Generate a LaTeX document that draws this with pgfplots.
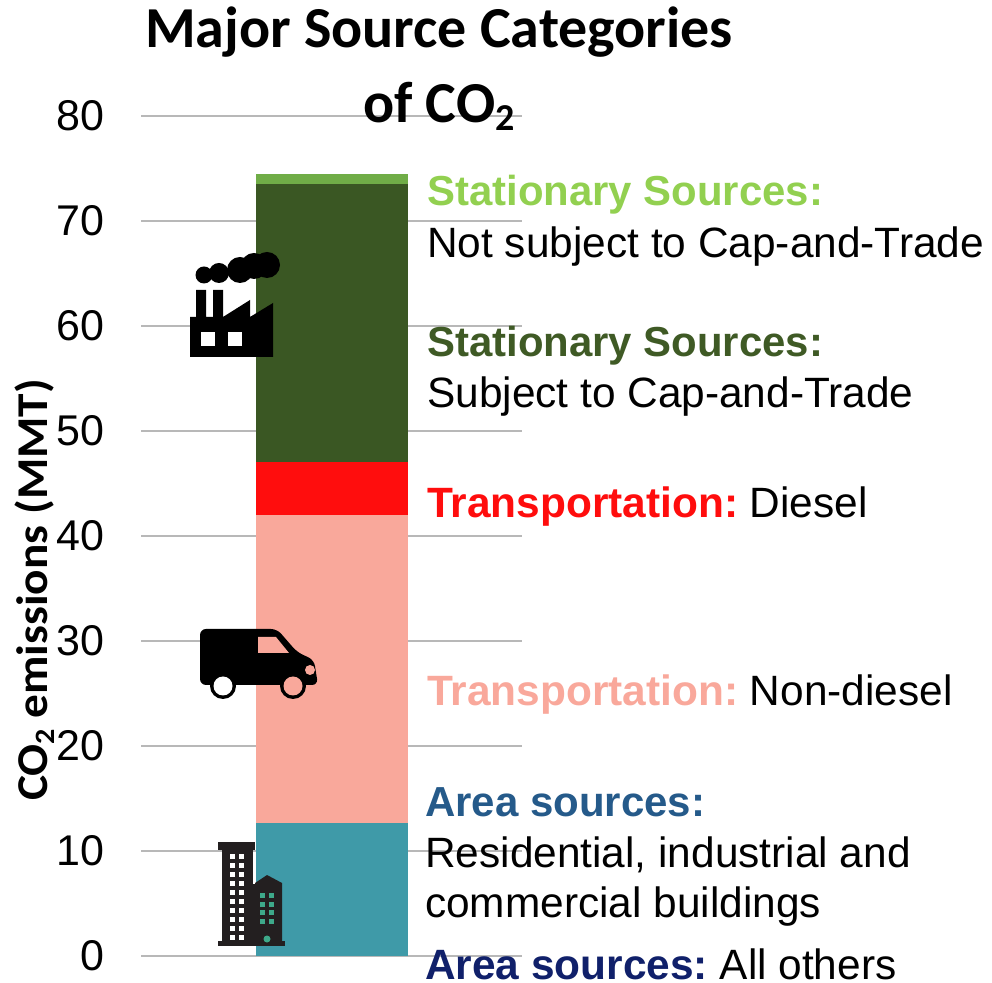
\documentclass[border=0pt]{standalone}
\usepackage{pgfplots}
\pgfplotsset{compat=1.18}
\usepackage{fontspec}
\setmainfont{Liberation Sans}
\newfontfamily\titlefont{Carlito}
\definecolor{cA}{HTML}{3F9AA8}
\definecolor{cB}{HTML}{F9A89B}
\definecolor{cC}{HTML}{FF0D0D}
\definecolor{cD}{HTML}{3A5723}
\definecolor{cE}{HTML}{70AD47}
\definecolor{tLight}{HTML}{92D050}
\definecolor{tDark}{HTML}{3F5A25}
\definecolor{tRed}{HTML}{FF0D0D}
\definecolor{tPink}{HTML}{F9A89B}
\definecolor{tBlue}{HTML}{255A8A}
\definecolor{tNavy}{HTML}{10206A}
\definecolor{grid}{HTML}{B8B8B8}
\definecolor{bld}{HTML}{231F20}
\definecolor{winG}{HTML}{3EA98A}
\pgfplotstableread{
x y
0 12.7
}\tA
\pgfplotstableread{
x y
0 29.3
}\tB
\pgfplotstableread{
x y
0 5.0
}\tC
\pgfplotstableread{
x y
0 26.5
}\tD
\pgfplotstableread{
x y
0 1.0
}\tE
\begin{document}
\begin{tikzpicture}[x=1pt,y=1pt]
\useasboundingbox (0,0) rectangle (992,982);
\begin{axis}[
  at={(141pt,26pt)}, anchor=south west,
  width=381pt, height=840pt, scale only axis,
  xmin=-191, xmax=190,
  ymin=0, ymax=80,
  ybar stacked, bar width=152pt,
  axis x line=none,
  axis y line=left,
  axis line style={draw=none},
  ytick={0,10,...,80},
  ymajorgrids,
  major grid style={draw=grid, line width=2.2pt},
  major tick length=0pt,
  tick style={draw=none},
  /pgf/number format/assume math mode=true,
  yticklabel style={font=\fontsize{43}{43}\selectfont, text=black, xshift=-33pt},
  clip=false,
]
\addplot[fill=cA,draw=none] table[x=x,y=y]{\tA};
\addplot[fill=cB,draw=none] table[x=x,y=y]{\tB};
\addplot[fill=cC,draw=none] table[x=x,y=y]{\tC};
\addplot[fill=cD,draw=none] table[x=x,y=y]{\tD};
\addplot[fill=cE,draw=none] table[x=x,y=y]{\tE};
\end{axis}
% icons, in picture pixels from the top-left corner
\begin{scope}[yscale=-1,yshift=-982pt]
% factory
\fill[black] (190,357) -- (190,317) -- (196,317) -- (196,290) -- (206,290) -- (206,317) -- (213,317) -- (213,290) -- (223,290) -- (223,317) -- (250,300) -- (250,317) -- (273,303) -- (273,357) -- cycle;
\fill[white] (201,332) rectangle (215,346);
\fill[white] (228,332) rectangle (242,346);
\fill[black] (204,275) circle (8.5);
\fill[black] (219,273) circle (10);
\fill[black] (240,270) circle (13);
\fill[black] (254,266) circle (13);
\fill[black] (267,265) circle (13);
% van
\fill[black,rounded corners=6pt] (200,685) -- (200,629) -- (277,629) -- (297,652) -- (314,660) -- (318,685) -- cycle;
\fill[tPink] (258,637) -- (276,637) -- (289,653) -- (258,653) -- cycle;
\fill[tPink] (310,670) circle (5);
\fill[black] (223,686) circle (13);
\fill[white] (223,686) circle (9.5);
\fill[black] (293,686) circle (13);
\fill[tPink] (293,686) circle (9.5);
% buildings
\fill[bld] (222,845) rectangle (253,945);
\fill[bld] (218,842) rectangle (255,850);
\fill[bld] (250,884) rectangle (256,945);
\fill[bld] (255,945) -- (255,883) -- (267,875) -- (282,883) -- (282,945) -- cycle;
\fill[bld] (218,941) rectangle (285,946);
\foreach \r in {853.5,862.5,871.5,880.5,889.5,898.5,907.5,916.5,925.5,934.5}{
  \fill[white] (229.5,\r) rectangle +(5,5);
  \fill[white] (239,\r) rectangle +(5,5);
}
\foreach \r in {893,902,910,919}{
  \fill[winG] (260,\r) rectangle +(5,5);
  \fill[winG] (269,\r) rectangle +(5,5);
}
\fill[winG] (267,939) circle (3.5);
\end{scope}
% text
\begin{scope}[every node/.style={anchor=west,inner sep=0pt,font=\fontsize{42.4}{42.4}\selectfont}]
\node[text=tLight,font=\fontsize{41.9}{41.9}\selectfont\bfseries] at (427,787) {Stationary Sources:};
\node at (427,735.5) {Not subject to Cap-and-Trade};
\node[text=tDark,font=\fontsize{41.9}{41.9}\selectfont\bfseries] at (427,636) {Stationary Sources:};
\node at (427,585.5) {Subject to Cap-and-Trade};
\node at (427,475) {\textcolor{tRed}{\bfseries Transportation:}\hspace{-4pt} Diesel};
\node at (427,287) {\textcolor{tPink}{\bfseries Transportation:}\hspace{-4pt} Non-diesel};
\node[text=tBlue,font=\fontsize{42}{42}\selectfont\bfseries] at (425,180) {Area sources:};
\node at (425,127) {Residential, industrial and};
\node at (425,75) {commercial buildings};
\node at (425,18) {\textcolor{tNavy}{\bfseries Area sources:}\hspace{-4pt} All others};
\end{scope}
\node[font=\titlefont\bfseries\fontsize{58}{58}\selectfont,anchor=center] at (439,950) {Major Source Categories};
\node[font=\titlefont\bfseries\fontsize{58}{58}\selectfont,anchor=center] at (439,876) {of CO\raisebox{-0.14em}{\fontsize{38}{38}\selectfont 2}};
\node[font=\titlefont\bfseries\fontsize{44}{44}\selectfont,rotate=90,anchor=center] at (35,392) {\scalebox{1.075}[1]{CO\raisebox{-0.14em}{\fontsize{28}{28}\selectfont 2} emissions (MMT)}};
\end{tikzpicture}
\end{document}
